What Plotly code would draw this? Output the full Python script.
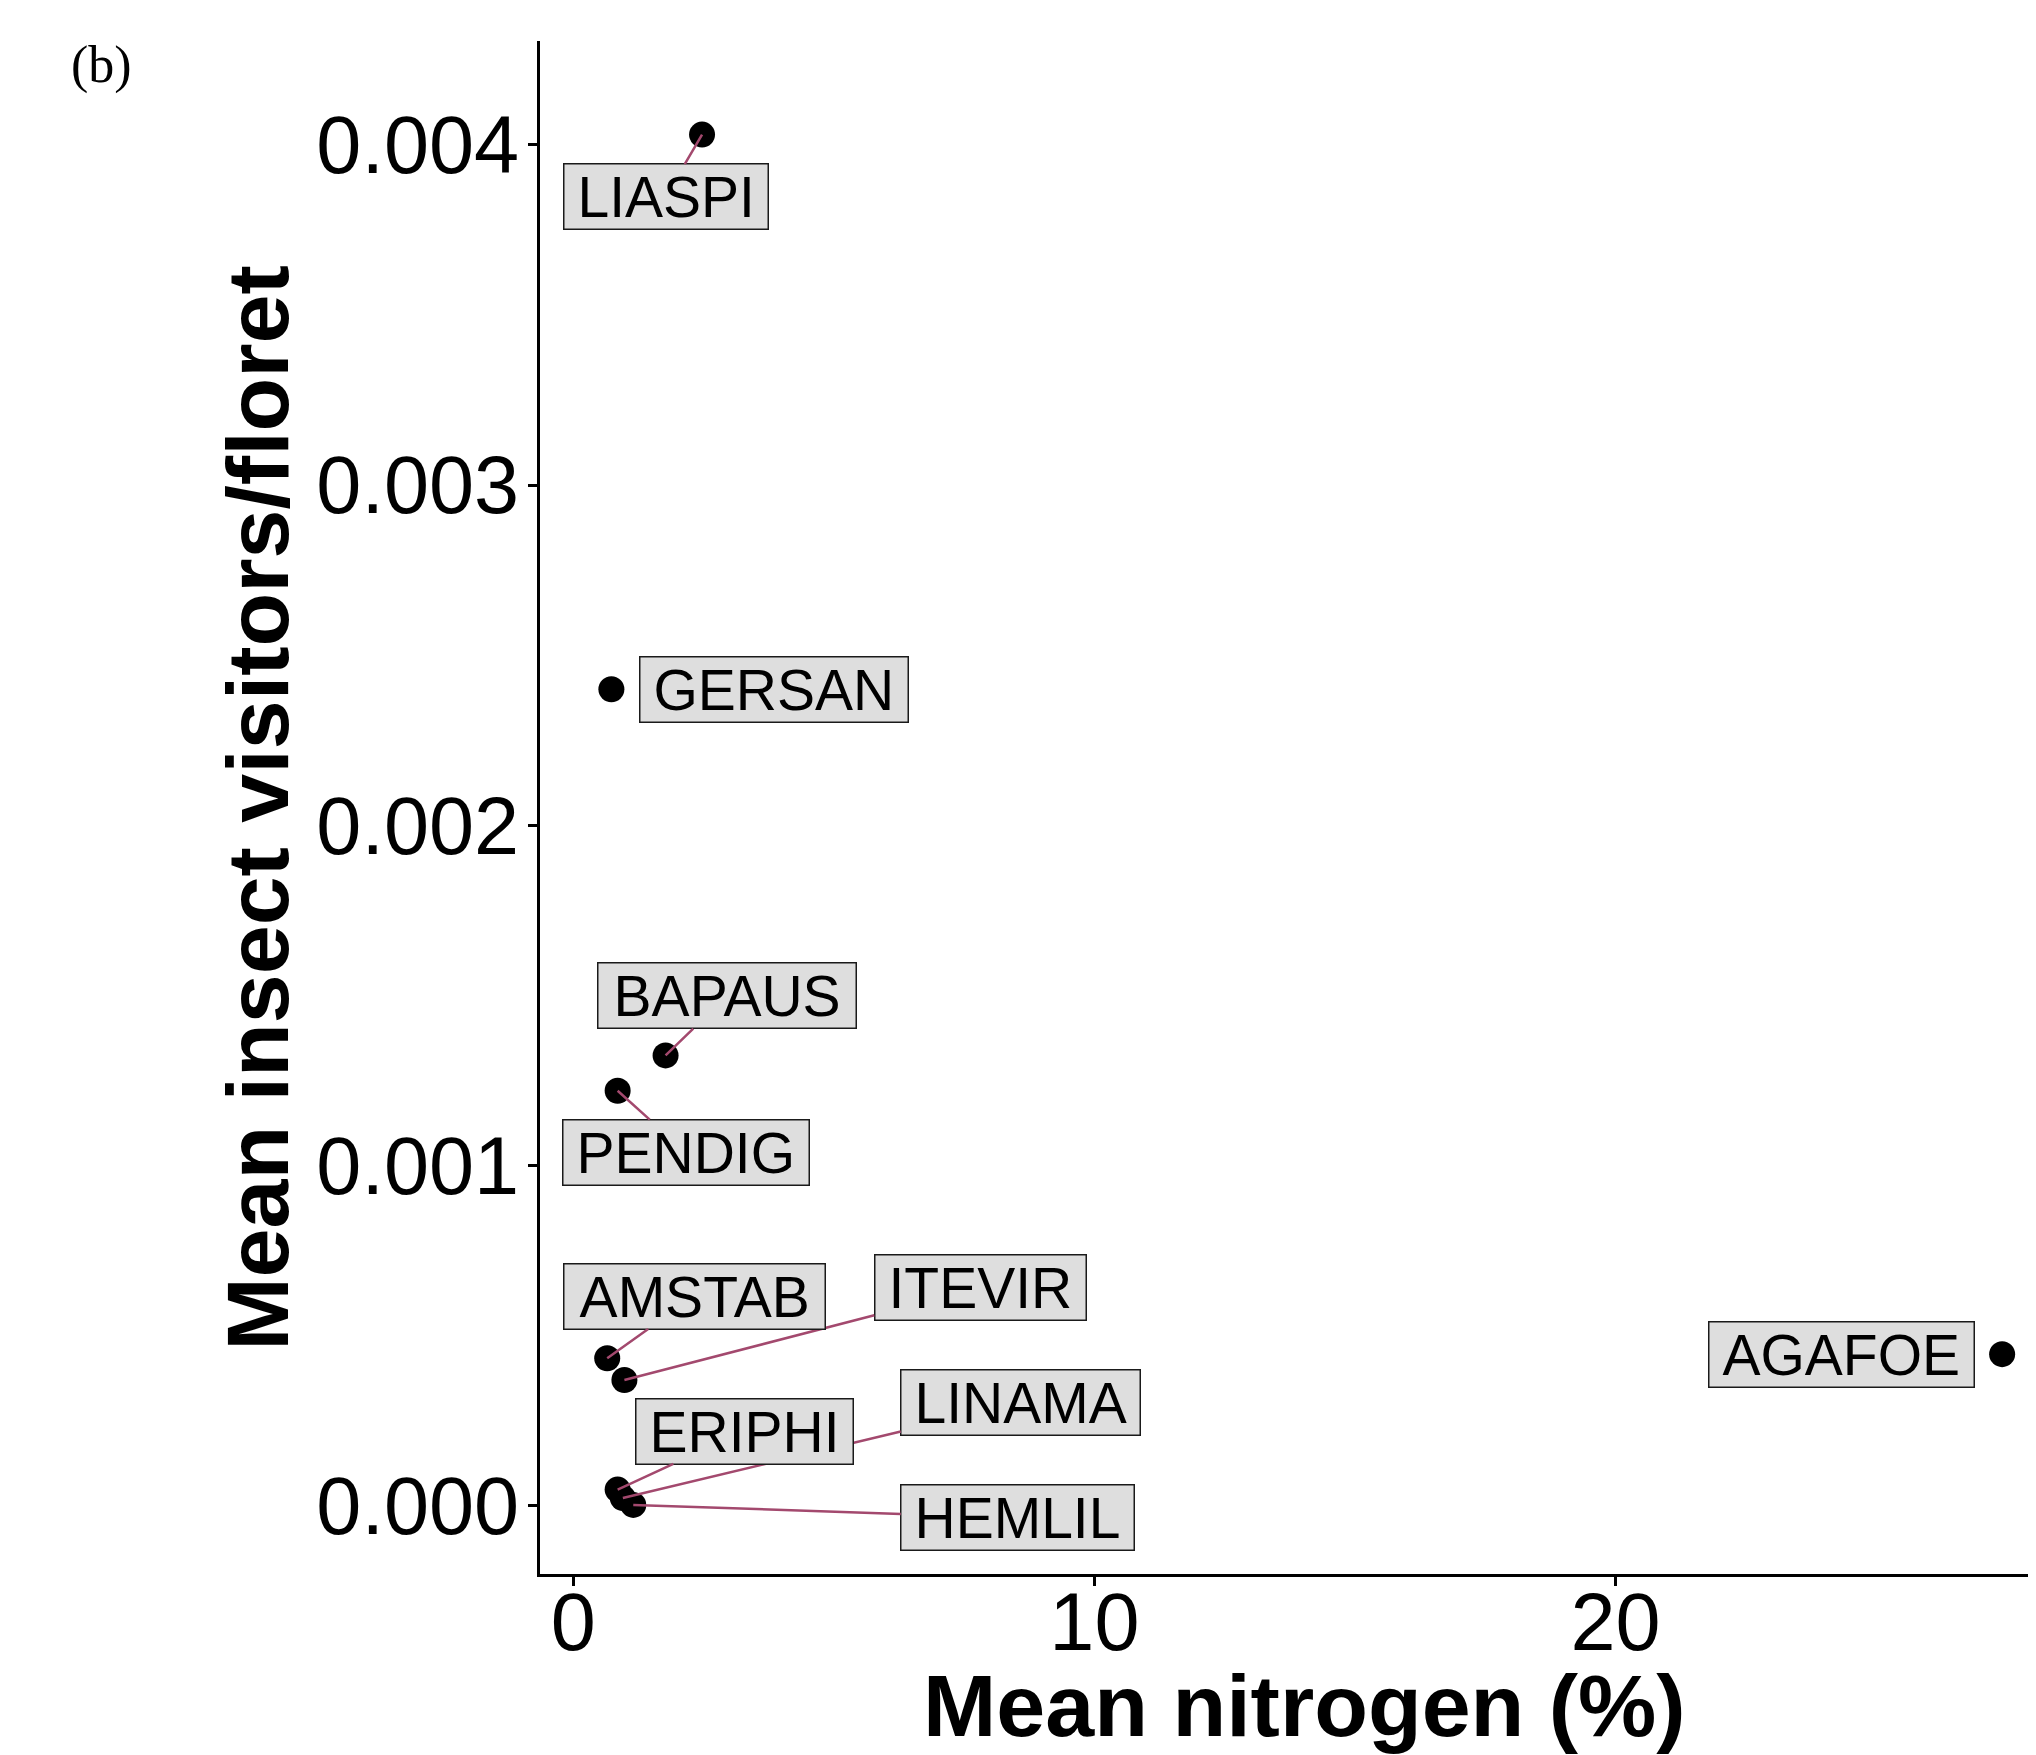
import plotly.graph_objects as go

# ---- data ----
species = ["LIASPI", "GERSAN", "BAPAUS", "PENDIG", "AMSTAB", "ITEVIR",
           "ERIPHI", "LINAMA", "HEMLIL", "AGAFOE"]
nitrogen = [2.47, 0.73, 1.77, 0.85, 0.65, 0.98, 0.85, 0.95, 1.15, 27.42]
visitors = [0.00403, 0.00240, 0.001324, 0.00122, 0.000434, 0.00037,
            0.000048, 0.0000235, 0.000003, 0.000446]

# ---- label layout (repelled label centres, data units) ----
label_x = [1.77, 3.85, 2.95, 2.165, 2.318, 7.805, 3.276, 8.582, 8.525, 24.33]
label_y = [0.003847, 0.002399, 0.001499, 0.001039, 0.000616, 0.000641,
           0.000220, 0.000303, -0.0000353, 0.000444]
show_segment = [True, False, True, True, True, True, True, True, True, False]
# draw order so that segments pass behind overlapping labels
draw_order = [0, 1, 2, 3, 5, 4, 7, 6, 8, 9]

LBL_FONT = 57
ADV = {"A": .667, "B": .667, "C": .722, "D": .722, "E": .667, "F": .611,
       "G": .778, "H": .722, "I": .278, "L": .556, "M": .833, "N": .722,
       "O": .778, "P": .667, "R": .722, "S": .667, "T": .611, "U": .722,
       "V": .667}


def label_width(txt):
    return sum(ADV.get(c, .6) for c in txt) * LBL_FONT + 20


SEG_COLOR = "#A3496E"
SANS = "Liberation Sans, Arial, sans-serif"

fig = go.Figure()
fig.add_trace(go.Scatter(
    x=nitrogen, y=visitors, mode="markers",
    marker=dict(color="black", size=26),
    text=species, hoverinfo="text", showlegend=False,
))

annotations = []
for i in draw_order:
    common = dict(
        text=species[i],
        font=dict(family=SANS, size=LBL_FONT, color="black"),
        bgcolor="#DEDEDE", bordercolor="#1A1A1A", borderwidth=1.5,
        borderpad=3, width=label_width(species[i]), height=58,
        xref="x", yref="y",
    )
    if show_segment[i]:
        annotations.append(dict(
            x=nitrogen[i], y=visitors[i], ax=label_x[i], ay=label_y[i],
            axref="x", ayref="y", showarrow=True, arrowhead=0,
            arrowwidth=2.5, arrowcolor=SEG_COLOR, standoff=0,
            startstandoff=0, **common))
    else:
        annotations.append(dict(x=label_x[i], y=label_y[i], showarrow=False,
                                **common))

# axis titles and panel tag
annotations.append(dict(
    text="<b>Mean nitrogen (%)</b>", xref="paper", yref="paper",
    x=0.5107, y=-0.0858, xanchor="center", yanchor="middle", showarrow=False,
    font=dict(family=SANS, size=88, color="black")))
annotations.append(dict(
    text="<b>Mean insect visitors/floret</b>", xref="paper", yref="paper",
    x=-0.1885, y=0.4998, xanchor="center", yanchor="middle", showarrow=False,
    textangle=-90,
    font=dict(family=SANS, size=88, color="black")))
annotations.append(dict(
    text="(b)", xref="paper", yref="paper", x=-0.2930, y=0.9845,
    xanchor="center", yanchor="middle", showarrow=False,
    font=dict(family="Liberation Serif, DejaVu Serif, serif", size=52,
              color="black")))

fig.update_layout(
    width=2036, height=1755,
    margin=dict(l=532, r=8, t=33, b=189, pad=0),
    paper_bgcolor="white", plot_bgcolor="white",
    annotations=annotations,
    showlegend=False,
)
axis_common = dict(
    showgrid=False, zeroline=False, showline=True, linecolor="black",
    linewidth=2.5, ticks="outside", ticklen=9, tickwidth=2.5,
    tickcolor="black",
    tickfont=dict(family=SANS, size=81, color="black"),
)
fig.update_xaxes(range=[-0.64, 28.07], tickvals=[0, 10, 20],
                 ticktext=["0", "10", "20"], ticklabelstandoff=-33,
                 **axis_common)
fig.update_yaxes(range=[-0.0002, 0.004305],
                 tickvals=[0, 0.001, 0.002, 0.003, 0.004],
                 ticktext=["0.000", "0.001", "0.002", "0.003", "0.004"],
                 ticklabelstandoff=-7,
                 **axis_common)

fig.write_html("out.html")
